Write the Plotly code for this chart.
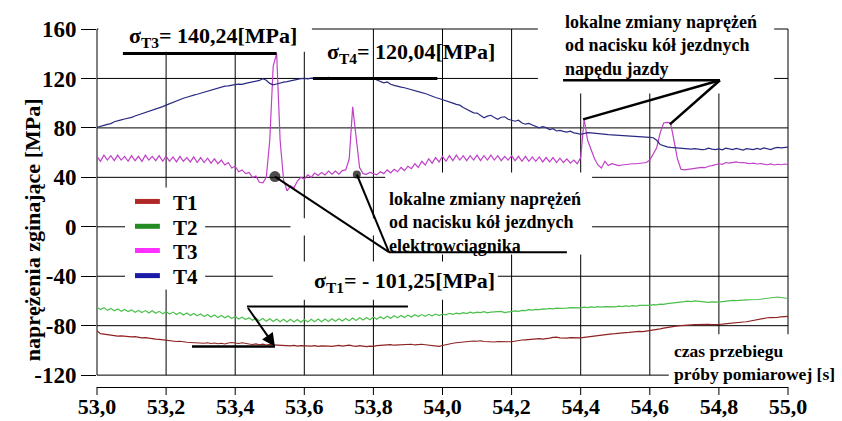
import numpy as np
import plotly.graph_objects as go

# ---------------- data ----------------
t = np.round(np.arange(201) * 0.01 + 53.0, 2)

T1 = [-84.0, -86.4, -86.8, -87.2, -87.0, -87.6, -88.4, -88.2, -88.6, -88.8,
      -89.0, -88.8, -89.4, -89.8, -89.6, -90.2, -90.4, -90.8, -91.0, -91.4,
      -91.8, -92.0, -92.2, -92.8, -92.6, -93.2, -93.4, -93.6, -93.8, -94.0,
      -94.0, -94.2, -93.8, -94.4, -94.0, -94.6, -94.2, -94.8, -94.0, -93.6,
      -94.0, -94.4, -93.8, -94.6, -94.8, -95.2, -94.8, -95.4, -95.0, -95.6,
      -95.2, -95.6, -95.8, -96.0, -95.6, -96.2, -96.4, -96.0, -96.6, -96.2,
      -96.4, -96.0, -96.6, -96.2, -96.8, -96.4, -96.2, -96.6, -96.8, -96.4,
      -96.0, -96.6, -96.2, -95.8, -96.4, -96.8, -96.2, -96.6, -97.0, -96.6,
      -96.8, -96.2, -96.0, -95.6, -95.8, -95.4, -95.8, -95.6, -95.2, -95.6,
      -95.4, -95.0, -95.6, -95.2, -95.0, -95.4, -95.8, -96.2, -96.6, -96.8,
      -96.0, -95.2, -94.6, -94.2, -93.8, -93.4, -93.0, -92.8, -92.6, -92.4,
      -92.6, -92.2, -92.8, -93.0, -92.6, -93.2, -92.8, -93.0, -93.4, -93.0,
      -93.0, -92.4, -92.0, -91.6, -91.4, -91.0, -90.8, -90.6, -90.4, -90.8,
      -90.6, -90.0, -89.4, -89.2, -89.8, -90.2, -90.0, -89.6, -89.8, -89.6,
      -89.8, -89.4, -89.0, -89.2, -88.6, -88.2, -87.8, -87.4, -87.0, -86.6,
      -86.4, -86.0, -85.8, -85.6, -85.4, -85.0, -84.8, -84.6, -84.8, -84.4,
      -84.4, -84.0, -83.2, -82.6, -82.0, -81.4, -81.0, -80.6, -80.2, -80.0,
      -79.6, -79.8, -79.4, -79.2, -79.0, -79.4, -79.2, -79.0, -79.2, -78.8,
      -79.0, -78.8, -78.4, -78.2, -77.8, -77.4, -77.2, -77.0, -76.8, -76.2,
      -75.8, -75.2, -74.6, -74.0, -73.6, -73.4, -73.6, -73.2, -72.8, -72.4,
      -72.4]

T2 = [-65.0, -67.0, -65.4, -67.6, -66.0, -68.0, -66.4, -68.4, -66.8, -68.6,
      -67.2, -69.2, -67.6, -69.4, -67.8, -69.8, -68.0, -70.0, -68.4, -70.4,
      -68.6, -70.6, -69.0, -71.0, -69.4, -71.4, -69.8, -71.8, -70.2, -72.0,
      -70.6, -72.6, -71.0, -73.0, -71.4, -73.4, -71.8, -73.6, -72.2, -74.2,
      -72.6, -74.6, -73.2, -75.0, -73.6, -75.6, -74.0, -76.0, -74.2, -76.4,
      -74.4, -76.6, -74.6, -76.8, -74.8, -77.0, -74.8, -77.0, -75.0, -77.2,
      -75.0, -77.0, -74.8, -76.8, -74.6, -76.8, -74.6, -76.6, -74.4, -76.4,
      -74.4, -76.2, -74.2, -76.0, -73.8, -75.8, -73.6, -75.4, -73.4, -75.2,
      -73.0, -74.8, -72.8, -74.4, -72.4, -74.0, -72.0, -73.6, -71.8, -73.4,
      -71.6, -73.0, -71.2, -72.6, -71.0, -72.4, -70.8, -72.0, -70.6, -71.8,
      -70.6, -71.2, -70.0, -70.8, -69.8, -70.4, -69.4, -70.2, -69.0, -69.8,
      -69.0, -69.4, -68.6, -69.6, -69.0, -68.8, -69.2, -68.4, -69.4, -68.8,
      -68.6, -68.0, -68.4, -67.6, -67.8, -67.0, -67.4, -66.8, -67.0, -66.4,
      -66.6, -66.0, -66.4, -65.8, -66.0, -65.6, -65.8, -65.4, -65.6, -65.2,
      -65.6, -65.0, -65.4, -64.8, -65.2, -64.6, -65.0, -64.6, -64.8, -64.4,
      -64.8, -64.2, -64.6, -64.0, -64.4, -63.8, -64.2, -63.6, -63.8, -63.4,
      -63.6, -63.0, -63.2, -62.6, -62.8, -62.2, -62.0, -61.6, -61.2, -60.8,
      -60.6, -60.2, -60.6, -60.0, -60.4, -60.6, -61.0, -61.2, -60.8, -61.2,
      -61.0, -60.6, -60.2, -60.0, -59.6, -59.8, -59.4, -59.6, -59.2, -59.0,
      -59.2, -58.8, -58.6, -58.2, -57.8, -57.4, -57.0, -56.8, -57.2, -57.6,
      -58.0]

T3 = [57.0, 53.0, 58.0, 54.0, 57.5, 53.5, 58.0, 54.0, 57.0, 53.0,
      57.5, 53.5, 57.0, 53.0, 58.0, 54.0, 57.0, 53.5, 57.5, 53.0,
      57.0, 53.0, 56.5, 52.5, 57.0, 53.0, 56.0, 52.5, 56.5, 52.0,
      56.0, 52.0, 55.5, 51.5, 55.0, 51.0, 54.0, 50.0, 52.0, 47.5,
      49.0, 44.5, 46.0, 43.0, 44.0, 40.0, 41.0, 36.0, 35.5, 40.0,
      70.0, 130.0, 140.24, 70.0, 38.0, 29.0, 33.0, 31.5, 37.0, 40.0,
      38.5, 42.0, 40.0, 43.5, 41.5, 44.0, 42.0, 45.0, 42.5, 45.0,
      42.5, 45.5, 46.0, 55.0, 97.0, 72.0, 48.0, 43.0, 42.5, 44.0,
      43.0, 42.0, 44.5, 43.0, 46.0, 43.5, 46.5, 44.5, 48.0, 45.5,
      49.0, 47.0, 51.0, 48.0, 53.0, 50.0, 55.0, 51.5, 56.0, 52.5,
      57.0, 53.0, 57.5, 53.5, 58.0, 54.0, 57.5, 53.5, 57.5, 54.0,
      58.0, 53.5, 57.5, 54.0, 58.0, 54.0, 57.5, 53.5, 57.0, 54.0,
      57.5, 53.5, 57.0, 53.0, 57.0, 53.0, 56.5, 53.0, 56.5, 52.5,
      56.0, 52.5, 56.0, 52.0, 55.5, 52.0, 55.0, 51.5, 54.0, 51.0,
      56.0, 87.0, 70.0, 62.0, 55.0, 50.0, 47.5, 53.0, 49.5, 51.0,
      50.0, 49.5, 50.0, 50.5, 50.5, 51.0, 51.0, 51.5, 51.5, 52.0,
      54.0, 58.5, 64.0, 76.0, 84.0, 84.5, 84.0, 70.0, 55.0, 46.5,
      46.0, 46.5, 47.0, 47.5, 47.5, 48.0, 47.8, 49.0, 49.5, 50.5,
      51.0, 50.5, 52.0, 51.5, 52.0, 52.5, 51.8, 52.0, 51.5, 51.0,
      51.5, 50.8, 51.2, 50.5, 50.2, 50.8, 50.0, 50.6, 50.2, 50.8,
      50.4]

T4 = [80.5, 81.5, 82.0, 82.8, 83.5, 85.0, 85.5, 86.5, 87.2, 87.6,
      88.5, 89.6, 90.5, 91.2, 92.4, 93.0, 94.3, 95.2, 96.0, 97.2,
      98.4, 99.6, 100.5, 101.8, 103.0, 104.0, 104.8, 105.9, 106.5, 107.2,
      108.0, 108.6, 109.5, 110.3, 111.6, 112.2, 113.1, 113.8, 114.0, 114.8,
      115.0, 115.4, 115.2, 116.0, 116.6, 117.0, 117.6, 118.4, 119.8, 118.5,
      116.0, 114.8, 115.5, 116.4, 117.0, 117.5, 118.2, 118.8, 119.5, 119.8,
      120.0, 119.6, 120.3, 120.1, 120.5, 120.6, 120.2, 120.8, 120.4, 119.9,
      120.5, 120.2, 119.6, 120.4, 120.0, 119.5, 120.3, 120.1, 119.7, 120.4,
      120.0, 118.8, 117.4, 116.5, 117.2, 115.3, 114.4, 114.0, 113.0, 112.5,
      111.6, 110.9, 110.0, 109.3, 108.5, 107.8, 106.6, 105.8, 104.6, 103.8,
      103.0, 102.0, 101.2, 100.0, 99.0, 98.4, 96.5, 95.0, 93.5, 92.2,
      92.0, 90.0, 88.2, 89.5, 90.2, 88.4, 87.0, 88.6, 89.0, 87.0,
      86.0, 85.4, 86.2, 84.0, 83.0, 83.6, 82.4, 81.2, 80.0, 81.0,
      80.2, 78.6, 79.4, 77.5, 78.0, 77.2, 76.6, 77.4, 76.0, 75.6,
      74.7, 75.5, 76.2, 76.0, 75.6, 75.2, 75.0, 74.7, 74.6, 74.4,
      74.2, 74.0, 73.8, 73.8, 73.6, 73.5, 73.4, 73.4, 73.2, 73.0,
      72.4, 72.0, 70.0, 66.6, 65.5, 64.6, 64.2, 64.0, 63.6, 63.2,
      63.0, 63.4, 62.8, 63.2, 62.6, 62.4, 62.6, 63.6, 62.8, 62.4,
      63.0, 62.2, 63.6, 62.8, 62.4, 63.4, 62.6, 62.0, 63.2, 62.8,
      62.4, 63.4, 62.6, 63.8, 63.0, 62.4, 63.6, 64.2, 63.8, 64.0,
      64.4]

x_ticks = [53.0, 53.2, 53.4, 53.6, 53.8, 54.0, 54.2, 54.4, 54.6, 54.8, 55.0]
x_labels = ["53,0", "53,2", "53,4", "53,6", "53,8", "54,0", "54,2", "54,4", "54,6", "54,8", "55,0"]
y_ticks = [-120, -80, -40, 0, 40, 80, 120, 160]
y_labels = ["-120", "-80", "-40", "0", "40", "80", "120", "160"]

names = ["T1", "T2", "T3", "T4"]
line_colors = ["#8e2222", "#4cc04c", "#c040c8", "#2a2a84"]
legend_colors = ["#b02828", "#228b22", "#ff30ff", "#1a1aa8"]

# annotation values
sigma_T3 = 140.24
sigma_T4 = 120.04
sigma_T1 = -101.25

XMIN, XMAX = 53.0, 55.0
YMIN, YMAX = -129.6, 160.0
FONT = "Liberation Serif, Times New Roman, Tinos, serif"
PLOT_H = 421 - 29 - 34


def px(v):
    return (v - XMIN) / (XMAX - XMIN)


def py(v):
    return (v - YMIN) / (YMAX - YMIN)


def bold(s):
    return "<b>" + s + "</b>"


def fnt(size):
    return dict(family=FONT, size=size, color="black")


fig = go.Figure()
series = [T1, T2, T3, T4]
for n, s, c in zip(names, series, line_colors):
    fig.add_trace(go.Scatter(x=t, y=s, mode="lines", name=n, line=dict(color=c, width=1.2),
                             showlegend=False, hoverinfo="skip"))

shapes = []
annotations = []


def line(x0, y0, x1, y1, w=1, layer="below", color="black"):
    shapes.append(dict(type="line", xref="paper", yref="paper",
                       x0=px(x0), y0=py(y0), x1=px(x1), y1=py(y1),
                       line=dict(color=color, width=w), layer=layer))


def mask(x0, y0, x1, y1):
    shapes.append(dict(type="rect", xref="paper", yref="paper",
                       x0=px(x0), y0=py(y0), x1=px(x1), y1=py(y1),
                       fillcolor="white", line=dict(width=0), layer="below"))


# grid
for yv in y_ticks:
    line(XMIN, yv, XMAX, yv)
for xv in x_ticks:
    line(xv, -120, xv, 160)
# x tick marks below the axis line
for xv in x_ticks:
    shapes.append(dict(type="line", xref="paper", yref="paper", x0=px(xv), x1=px(xv),
                       y0=0, y1=-8 / PLOT_H, line=dict(color="black", width=1)))

# white areas behind texts and legend
mask(53.004, 141.5, 53.622, 163)
mask(54.276, 107.9, 54.96, 163)
mask(53.834, -22.4, 54.433, 44)
mask(53.56, -7, 53.834, 7)
mask(53.509, -59, 54.16, -28)
mask(54.655, -126, 55.01, -87)
mask(53.081, -50.8, 53.313, 31.8)

# legend (drawn by hand so the row spacing matches)
legend_rows = [20.5, 0.4, -19.2, -39.5]
for n, c, yv in zip(names, legend_colors, legend_rows):
    line(53.11, yv, 53.182, yv, w=5, layer="above", color=c)
    annotations.append(dict(x=53.215, y=yv - 1.2, xref="x", yref="y", showarrow=False,
                            xanchor="left", text=bold(n), font=fnt(21)))

# callout lines
line(53.075, sigma_T3, 53.52, sigma_T3, w=3, layer="above")
line(53.625, sigma_T4, 53.985, sigma_T4, w=3, layer="above")
line(53.515, 40.6, 53.845, -20.5, w=2, layer="above")
line(53.752, 42.3, 53.845, -20.5, w=2, layer="above")
line(53.845, -20.5, 54.36, -20.5, w=2, layer="above")
line(54.349, 118.5, 54.803, 118.5, w=2.5, layer="above")
line(54.803, 118.5, 54.407, 86.9, w=2.5, layer="above")
line(54.803, 118.5, 54.658, 82.8, w=2.5, layer="above")
line(53.434, -64.5, 53.90, -64.5, w=2, layer="above")
line(53.275, -96.8, 53.515, -96.8, w=2.5, layer="above")

fig.add_trace(go.Scatter(x=[53.515, 53.752], y=[40.6, 42.3], mode="markers",
                         marker=dict(color="black", size=[11, 8], line=dict(width=0)),
                         showlegend=False, hoverinfo="skip", cliponaxis=False))

annotations += [
    dict(x=53.336, y=153.5, xref="x", yref="y", showarrow=False,
         text=bold("σ<sub>T3</sub>= 140,24[MPa]"), font=fnt(22)),
    dict(x=53.91, y=140.5, xref="x", yref="y", showarrow=False,
         text=bold("σ<sub>T4</sub>= 120,04[MPa]"), font=fnt(22)),
    dict(x=53.89, y=-44.5, xref="x", yref="y", showarrow=False,
         text=bold("σ<sub>T1</sub>= - 101,25[MPa]"), font=fnt(22)),
    dict(x=53.84, y=3.3, xref="x", yref="y", showarrow=False, xanchor="left", align="left",
         text=bold("lokalne zmiany naprężeń<br>od nacisku kół jezdnych<br>elektrowciągnika"), font=fnt(18)),
    dict(x=54.35, y=146.5, xref="x", yref="y", showarrow=False, xanchor="left", align="left",
         text=bold("lokalne zmiany naprężeń<br>od nacisku kół jezdnych<br>napędu jazdy"), font=fnt(18)),
    dict(x=54.665, y=-109.8, xref="x", yref="y", showarrow=False, xanchor="left", align="left",
         text=bold("czas przebiegu<br>próby pomiarowej [s]"), font=fnt(17.5)),
    dict(x=53.515, y=-96.8, ax=53.434, ay=-64.5, xref="x", yref="y", axref="x", ayref="y",
         showarrow=True, arrowhead=2, arrowsize=1.3, arrowwidth=2, arrowcolor="black", text=""),
    dict(x=-0.114, y=0.44, xref="paper", yref="paper", showarrow=False, textangle=-90,
         text=bold("naprężenia zginające [MPa]"), font=fnt(22)),
]

fig.update_layout(
    width=842, height=421,
    margin=dict(l=97, r=54, t=29, b=34),
    paper_bgcolor="white", plot_bgcolor="white",
    font=dict(family=FONT, color="black"),
    shapes=shapes, annotations=annotations,
    showlegend=False,
    xaxis=dict(range=[XMIN, XMAX], showgrid=False, zeroline=False, showline=True,
               linecolor="black", linewidth=1, ticks="outside", ticklen=0, tickcolor="black",
               tickvals=x_ticks, ticktext=[bold(s) for s in x_labels],
               tickfont=fnt(22), automargin=False),
    yaxis=dict(range=[YMIN, YMAX], showgrid=False, zeroline=False, showline=False,
               ticks="outside", ticklen=15, tickcolor="black",
               tickvals=y_ticks, ticktext=[bold(s) for s in y_labels],
               tickfont=fnt(23), automargin=False),
)

fig.write_html("out.html", config={"displayModeBar": False},
               post_script="document.body.style.margin='0px';")
